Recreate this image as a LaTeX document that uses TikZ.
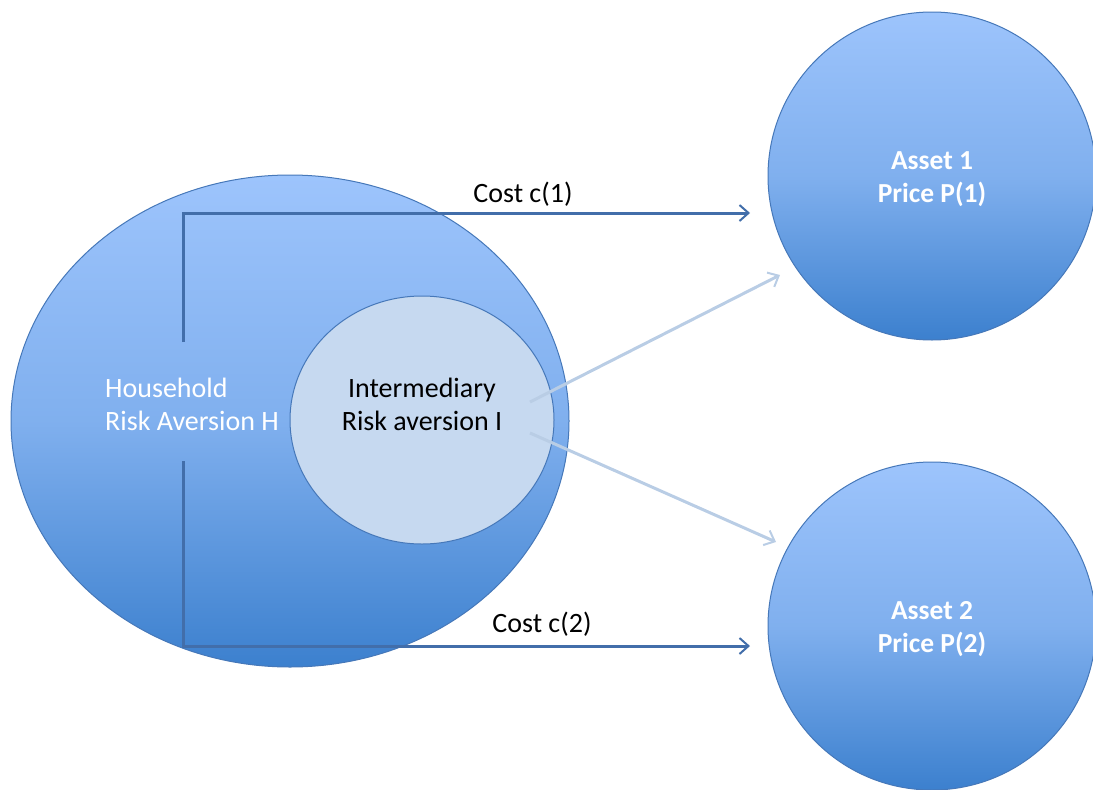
\documentclass[tikz,border=0pt]{standalone}
\usepackage{fontspec}
\setmainfont{Carlito}
\usetikzlibrary{shapes.geometric,arrows.meta,calc}
\definecolor{ctop}{RGB}{157,196,252}
\definecolor{cbot}{RGB}{60,128,206}
\definecolor{edgeblue}{RGB}{70,120,185}
\definecolor{innerfill}{RGB}{198,217,240}
\definecolor{costline}{RGB}{66,110,170}
\definecolor{lightarr}{RGB}{185,205,229}
\begin{document}
\begin{tikzpicture}[x=1pt,y=-1pt,
  blueshape/.style={draw=edgeblue, line width=1pt, top color=ctop, bottom color=cbot, middle color=ctop!70!cbot, inner sep=0pt},
  bigellipse/.style={ellipse, blueshape},
  assetcircle/.style={circle, blueshape, minimum size=328pt},
  assettext/.style={text=white, align=center, inner sep=0pt, font=\fontsize{27.5}{33}\selectfont\bfseries},
  innerellipse/.style={ellipse, draw=edgeblue, line width=1pt, fill=innerfill, inner sep=0pt},
  lbl/.style={font=\fontsize{28}{33}\selectfont, align=center, inner sep=0pt},
  costarrow/.style={draw=costline, line width=3pt, -{Straight Barb[length=9pt,width=16pt,line width=2pt]}},
  lightarrow/.style={draw=lightarr, line width=3pt, -{Straight Barb[length=9pt,width=16pt,line width=2pt]}}
]
\useasboundingbox (0,0) rectangle (1093,790);
\node[bigellipse, minimum width=558pt, minimum height=492pt] (hh) at (290,421) {};
\node[innerellipse, minimum width=264pt, minimum height=248pt] (im) at (422,420) {};
\node[assetcircle] (a1) at (932,176) {};
\node[assetcircle] (a2) at (932,626) {};
\node[assettext] (a1text) at (932,179) {Asset 1\\Price P(1)};
\node[assettext] (a2text) at (932,629) {Asset 2\\Price P(2)};

\node[lbl, align=left, anchor=west, text=white] (hhtext) at (105,404) {Household\\Risk Aversion H};
\node[lbl] (imtext) at (422,404) {Intermediary\\Risk aversion I};

\coordinate (c1s) at (183,342);
\coordinate (c1e) at (750,213);
\coordinate (c2s) at (183,461);
\coordinate (c2e) at (750,646);
\draw[costarrow] (c1s) |- (c1e);
\draw[costarrow] (c2s) |- (c2e);
\node[lbl] (cost1) at (523,194) {Cost c(1)};
\node[lbl] (cost2) at (542,624) {Cost c(2)};

\coordinate (l1s) at (530,402);
\coordinate (l1e) at (780,275);
\coordinate (l2s) at (530,433);
\coordinate (l2e) at (776,542);
\draw[lightarrow] (l1s) -- (l1e);
\draw[lightarrow] (l2s) -- (l2e);
\end{tikzpicture}
\end{document}
